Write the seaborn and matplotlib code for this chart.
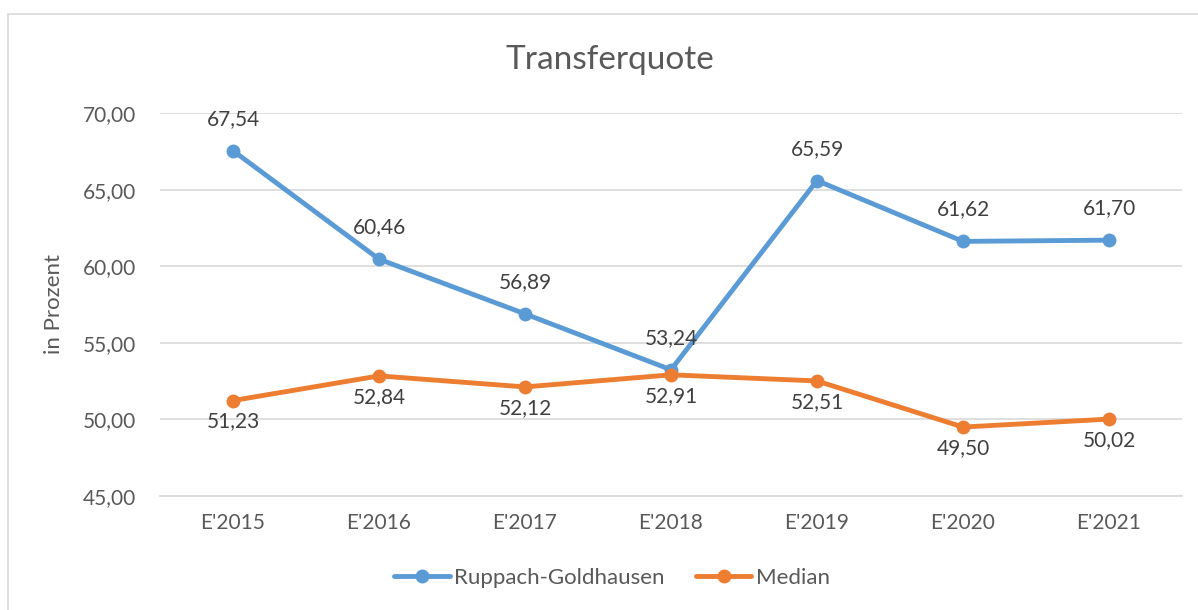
import pandas as pd
import matplotlib.pyplot as plt
import seaborn as sns
from matplotlib.patches import Rectangle

# Daten
jahre = ["E'2015", "E'2016", "E'2017", "E'2018", "E'2019", "E'2020", "E'2021"]
ruppach = [67.54, 60.46, 56.89, 53.24, 65.59, 61.62, 61.70]
median = [51.23, 52.84, 52.12, 52.91, 52.51, 49.50, 50.02]
serien = ["Ruppach-Goldhausen", "Median"]

df = pd.DataFrame({
    'jahr': jahre * 2,
    'wert': ruppach + median,
    'serie': [serien[0]] * len(jahre) + [serien[1]] * len(jahre),
})
df['x'] = df['jahr'].map({j: i for i, j in enumerate(jahre)})

sns.set_style('white')
plt.rcParams['font.family'] = ['Lato', 'DejaVu Sans']
grau = '#595959'
farben = {serien[0]: '#5B9BD5', serien[1]: '#ED7D31'}

fig = plt.figure(figsize=(11.98, 6.10), dpi=100)
ax = fig.add_axes([160 / 1198, 1 - 496 / 610, 1022 / 1198, 383 / 610])

# Rahmen um das Diagramm
fig.patches.append(Rectangle((8 / 1198, -0.1), 1.2, 1.1 - 14 / 610,
                             transform=fig.transFigure, fill=False,
                             edgecolor='#D9D9D9', linewidth=1.2))

sns.lineplot(data=df, x='x', y='wert', hue='serie', palette=farben,
             marker='o', markersize=10, markeredgewidth=0, linewidth=3.5,
             ax=ax, legend=False)

# Datenbeschriftungen
for i, v in enumerate(ruppach):
    ax.annotate(f"{v:.2f}".replace('.', ','), (i, v), xytext=(0, 23),
                textcoords='offset points', ha='center', va='center',
                fontsize=15, color='#404040')
for i, v in enumerate(median):
    ax.annotate(f"{v:.2f}".replace('.', ','), (i, v), xytext=(0, -15),
                textcoords='offset points', ha='center', va='center',
                fontsize=15, color='#404040')

ax.set_xlim(-0.5, len(jahre) - 0.5)
ax.set_ylim(45, 70)
ax.set_yticks([45, 50, 55, 60, 65, 70])
ax.set_yticklabels([f"{t:.2f}".replace('.', ',') for t in [45, 50, 55, 60, 65, 70]])
ax.set_xticks(range(len(jahre)))
ax.set_xticklabels(jahre)
ax.tick_params(axis='both', labelsize=15, labelcolor=grau, length=0)
ax.tick_params(axis='y', pad=17)
ax.tick_params(axis='x', pad=12)
ax.grid(axis='y', color='#D9D9D9', linewidth=1.2)
ax.set_axisbelow(True)
for s in ['top', 'right', 'left']:
    ax.spines[s].set_visible(False)
ax.spines['bottom'].set_color('#D9D9D9')
ax.spines['bottom'].set_linewidth(1.2)

ax.set_xlabel('')
ax.set_ylabel('in Prozent', fontsize=16, color=grau, labelpad=14)
fig.text(610 / 1198, 1 - 60 / 610, 'Transferquote', ha='center', va='center',
         fontsize=24, color=grau)

handles = [plt.Line2D([], [], color=farben[s], marker='o', markersize=10,
                      linewidth=3.5, markeredgewidth=0) for s in serien]
fig.legend(handles, serien, loc='center', bbox_to_anchor=(612 / 1198, 1 - 578 / 610),
           ncol=2, frameon=False, fontsize=16, labelcolor=grau,
           handlelength=2.5, columnspacing=1.4, handletextpad=0.2)

fig.savefig('out.png', dpi=100)
